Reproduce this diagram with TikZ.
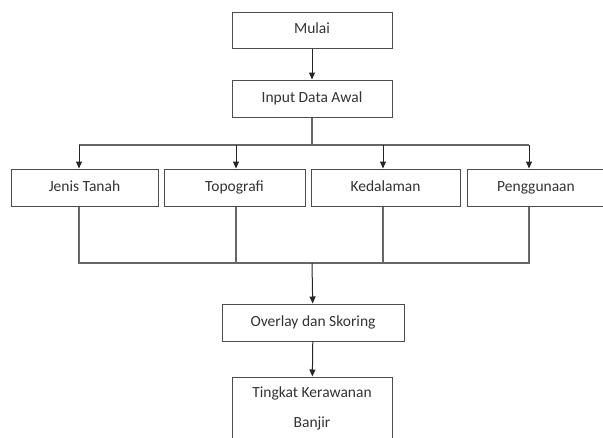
\documentclass[tikz,border=0pt]{standalone}
\usepackage{fontspec}
\setmainfont{Carlito}
\usetikzlibrary{arrows.meta}

\tikzset{
  kotak/.style={draw=black!70,line width=1pt,rectangle,inner sep=0pt,text=black!80,text height=10.5pt,text depth=3pt,font=\fontsize{15.5}{18}\selectfont},
  panah/.style={draw=black!85,line width=1pt,-{Triangle[length=7pt,width=6pt]}},
  garis/.style={draw=black!60,line width=1.2pt}
}

\begin{document}
\begin{tikzpicture}[x=1pt,y=-1pt]
        % Frame of the page
        \useasboundingbox (0,0) rectangle (603,437);
        % Boxes
        \node[kotak,minimum width=160pt,minimum height=36pt] (mulai) at (312,30) {Mulai};
        \node[kotak,minimum width=160pt,minimum height=37pt] (input) at (312,98.5) {Input Data Awal};
        \node[kotak,minimum width=147pt,minimum height=37pt] (jenis) at (84.5,187.5) {Jenis Tanah};
        \node[kotak,minimum width=141pt,minimum height=37pt] (topo) at (234.5,187.5) {Topografi};
        \node[kotak,minimum width=149pt,minimum height=37pt] (dalam) at (385.5,187.5) {Kedalaman};
        \node[kotak,minimum width=138pt,minimum height=37pt] (guna) at (536,187.5) {Penggunaan};
        \node[kotak,minimum width=182pt,minimum height=37pt] (overlay) at (313,322.5) {Overlay dan Skoring};
        \node[kotak,minimum width=160pt,minimum height=62pt,align=center,text height=,text depth=,font=\fontsize{15.5}{30}\selectfont] (tingkat) at (312,408) {Tingkat Kerawanan\\Banjir};
        % Branch points
        \coordinate (cabang) at (312,145);
        \coordinate (c1) at (79,145);
        \coordinate (c2) at (236,145);
        \coordinate (c3) at (383,145);
        \coordinate (c4) at (529,145);
        % Join points
        \coordinate (gabung) at (312,263);
        \coordinate (g1) at (79,263);
        \coordinate (g2) at (236,263);
        \coordinate (g3) at (383,263);
        \coordinate (g4) at (529,263);
        % Top part
        \draw[panah] (mulai) -- (input);
        \draw[garis] (input.south) -- (cabang);
        \draw[garis] (c1) -- (c4);
        \draw[panah] (c1) -- (c1 |- jenis.north);
        \draw[panah] (c2) -- (c2 |- topo.north);
        \draw[panah] (c3) -- (c3 |- dalam.north);
        \draw[panah] (c4) -- (c4 |- guna.north);
        % Bottom part
        \draw[garis] (g1 |- jenis.south) -- (g1) -- (g4) -- (g4 |- guna.south);
        \draw[garis] (g2 |- topo.south) -- (g2);
        \draw[garis] (g3 |- dalam.south) -- (g3);
        \draw[panah] (gabung) -- (overlay);
        \draw[panah] (overlay) -- (tingkat);
    \end{tikzpicture}
\end{document}
